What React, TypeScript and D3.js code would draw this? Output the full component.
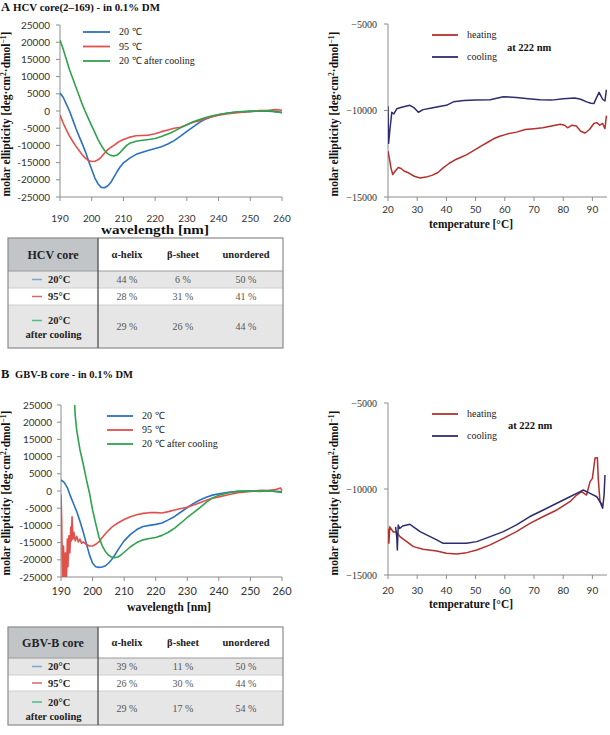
import React from 'react';
import * as d3 from 'd3';

const SERIF = '"Liberation Serif", "Times New Roman", serif';
const SANS = 'Lato, "Open Sans", "Liberation Sans", sans-serif';

type Pt = [number, number];

// ---------- Panel A: HCV core CD spectra ----------
const hcv20: Pt[] = [[190,5200],[191,4000],[192,2000],[193,0],[194,-2500],[195,-5000],[196,-7300],[197,-9500],[198,-11800],[199,-14500],[200,-17000],[201,-19500],[202,-21200],[203,-22200],[204,-22300],[205,-21800],[206,-20800],[207,-19200],[208,-17600],[209,-16200],[210,-15100],[212,-13700],[214,-12600],[216,-12000],[218,-11400],[220,-10900],[222,-10400],[224,-9600],[226,-8600],[228,-7300],[230,-5900],[232,-4600],[234,-3300],[236,-2300],[238,-1600],[240,-1100],[243,-600],[246,-300],[250,-100],[254,0],[257,-100],[260,-400]];
const hcv95: Pt[] = [[190,-1200],[191,-3500],[192,-5500],[193,-7300],[194,-8800],[195,-10200],[196,-11500],[197,-12700],[198,-13700],[199,-14400],[200,-14700],[201,-14600],[202,-14200],[203,-13400],[204,-12300],[205,-11300],[206,-10600],[207,-10000],[208,-9300],[209,-8700],[210,-8300],[212,-7600],[214,-7200],[216,-7100],[218,-7000],[220,-6600],[222,-6000],[224,-5500],[226,-5000],[228,-4700],[230,-4000],[232,-3300],[234,-2800],[236,-2200],[238,-1700],[240,-1200],[243,-800],[246,-500],[250,-100],[253,100],[256,200],[258,400],[260,200]];
const hcv20cool: Pt[] = [[190,20600],[191,18000],[192,15000],[193,12000],[194,9500],[195,7000],[196,4500],[197,2000],[198,-200],[199,-2300],[200,-4300],[201,-6300],[202,-8300],[203,-10000],[204,-11400],[205,-12400],[206,-12900],[207,-13100],[208,-12800],[209,-12000],[210,-11000],[211,-10000],[212,-9400],[214,-8800],[216,-8500],[218,-8300],[220,-8000],[222,-7400],[225,-6300],[228,-4900],[230,-4000],[232,-3100],[234,-2500],[236,-1900],[238,-1400],[240,-1000],[243,-600],[246,-200],[250,-100],[253,0],[256,100],[258,-200],[260,-500]];

// ---------- Panel A: melting at 222 nm ----------
const hcvHeating: Pt[] = [[20,-12350],[20.5,-12800],[21,-13300],[21.6,-13700],[22.5,-13500],[23.5,-13300],[24.5,-13350],[25.5,-13500],[27,-13600],[29,-13800],[31,-13900],[33,-13850],[35,-13750],[37,-13600],[39,-13300],[41,-13050],[43,-12850],[45,-12700],[47,-12550],[50,-12250],[52,-12050],[54,-11850],[56,-11650],[58,-11500],[61,-11350],[64,-11250],[67,-11100],[70,-11050],[73,-11000],[76,-10900],[79,-10800],[80.5,-10850],[81.5,-11000],[83,-10850],[84.5,-10900],[86,-11200],[87.5,-11300],[89,-11100],[90.5,-10750],[91.5,-10700],[92.5,-10850],[93.5,-10750],[94.3,-11050],[94.8,-10300]];
const hcvCooling: Pt[] = [[20,-9750],[20.2,-11900],[20.6,-11200],[21.3,-10100],[22,-10200],[23,-9900],[25,-9800],[27.5,-9700],[29,-9850],[30.4,-10100],[32,-9950],[35,-9850],[38,-9750],[40,-9700],[42.4,-9500],[46,-9420],[50,-9400],[55,-9380],[59.5,-9200],[64,-9250],[68,-9320],[72,-9380],[76,-9400],[80,-9320],[84,-9280],[86,-9350],[88,-9500],[89.5,-9580],[90.5,-9600],[91.3,-9300],[92.3,-8950],[93.5,-9350],[94.3,-9450],[94.8,-8800]];

// ---------- Panel B: GBV-B core CD spectra ----------
const gbv20: Pt[] = [[190,3200],[191,2500],[192,1000],[193,-1500],[194,-3800],[195,-6000],[196,-8800],[197,-11800],[198,-15200],[199,-18500],[200,-21000],[201,-22000],[202,-22200],[203,-22100],[204,-21800],[205,-21000],[206,-20000],[207,-18700],[208,-17200],[209,-15800],[210,-14500],[212,-12600],[214,-11200],[216,-10300],[218,-10000],[220,-9700],[222,-9300],[224,-8400],[226,-7400],[228,-6100],[230,-4800],[232,-3600],[234,-2600],[236,-1800],[238,-1200],[240,-800],[243,-400],[246,-100],[250,0],[254,100],[257,0],[260,-200]];
const gbv95: Pt[] = [[190,-1000],[190.2,-8000],[190.5,-27000],[190.8,-16000],[191.1,-27000],[191.4,-18000],[191.7,-27000],[192,-14000],[192.2,-22000],[192.5,-13000],[192.8,-18000],[193.1,-10500],[193.3,-14500],[193.5,-7500],[193.8,-14000],[194.1,-12000],[194.5,-14500],[195,-13200],[195.5,-14800],[196,-14000],[196.5,-15200],[197,-14800],[198,-15500],[199,-16000],[200,-16000],[201,-15500],[202,-14800],[203,-13600],[204,-12500],[205,-11500],[206,-10600],[207,-9900],[208,-9300],[210,-8300],[212,-7500],[214,-6900],[216,-6500],[218,-6300],[220,-6300],[222,-6400],[224,-6000],[226,-5500],[228,-5100],[230,-4700],[232,-4100],[234,-3400],[236,-2700],[238,-2100],[240,-1700],[243,-1100],[246,-500],[250,-100],[253,100],[256,200],[258,400],[259.5,900],[260,100]];
const gbv20cool: Pt[] = [[194.1,29000],[194.5,22000],[195,17500],[196,12000],[197,8000],[198,3500],[199,-500],[200,-5500],[201,-9500],[202,-13300],[203,-15800],[204,-17500],[205,-18600],[206,-19200],[207,-19400],[208,-19200],[209,-18600],[210,-17800],[212,-16200],[214,-15000],[216,-14200],[218,-13800],[220,-13500],[222,-12900],[224,-12000],[226,-10800],[228,-9300],[230,-7700],[232,-6300],[234,-4800],[236,-3300],[238,-2000],[240,-1200],[243,-500],[246,-100],[250,0],[253,-100],[256,100],[258,-200],[260,-400]];

// ---------- Panel B: melting at 222 nm ----------
const gbvHeating: Pt[] = [[20,-12300],[20.3,-13150],[20.6,-12200],[21.8,-12500],[22.9,-12500],[24.1,-12770],[26.4,-13060],[28.7,-13350],[32,-13500],[36.7,-13600],[40,-13740],[43.5,-13780],[47,-13700],[50.4,-13550],[55,-13250],[59.5,-12870],[64,-12480],[68.6,-12000],[73.2,-11600],[77.8,-11220],[82.3,-10740],[84.6,-10350],[86.3,-10150],[88,-10350],[89.2,-9570],[90,-9380],[90.9,-8200],[91.7,-8180],[92,-9380],[92.6,-10740],[93.5,-10930]];
const gbvCooling: Pt[] = [[22.6,-12200],[23,-12800],[23.2,-13550],[23.5,-12100],[24,-12300],[25,-12150],[27.5,-12050],[28.7,-12200],[31,-12480],[33.2,-12670],[36.7,-12960],[38.9,-13160],[42.4,-13160],[46.9,-13150],[50.4,-13060],[55,-12770],[59.5,-12480],[64,-12090],[68.6,-11600],[73.2,-11220],[77.8,-10830],[82.3,-10450],[85.8,-10150],[86.9,-10060],[89.2,-10250],[91.5,-10450],[92.6,-10740],[93.5,-11120],[94,-10350],[94.3,-9190]];

// ---------- ticks & labels ----------
const wavelengthTicks = [190, 200, 210, 220, 230, 240, 250, 260];
const cdTicks = [-25000, -20000, -15000, -10000, -5000, 0, 5000, 10000, 15000, 20000, 25000];
const tempTicks = [20, 30, 40, 50, 60, 70, 80, 90];
const meltTicks = [-15000, -10000, -5000];
const spectraLegend = ['20 ℃', '95 ℃', '20 ℃ after cooling'];
const meltLegend = ['heating', 'cooling'];

// ---------- tables ----------
const structureHeaders = ['α-helix', 'β-sheet', 'unordered'];
const rowLabels = ['20°C', '95°C', '20°C'];
const hcvHelix = [44, 28, 29];
const hcvSheet = [6, 31, 26];
const hcvUnordered = [50, 41, 44];
const gbvHelix = [39, 26, 29];
const gbvSheet = [11, 30, 17];
const gbvUnordered = [50, 44, 54];

const BLUE = '#2a71c1';
const RED = '#e2504c';
const GREEN = '#2fa24e';
const HEAT = '#b3302e';
const COOL = '#2d2c6e';
const spectraColors = [BLUE, RED, GREEN];
const meltColors = [HEAT, COOL];
const dashColors = ['#7fa6cf', '#d9676a', '#4cbf86'];

function YTitle({ x, y }: { x: number; y: number }) {
  return (
    <text transform={`translate(${x},${y}) rotate(-90)`} textAnchor="middle"
      fontFamily={SERIF} fontWeight="bold" fontSize={11.5} fill="#111">
      molar ellipticity [deg·cm<tspan dy={-4} fontSize={7.5}>2</tspan><tspan dy={4}>·dmol</tspan><tspan dy={-4} fontSize={7.5}>−1</tspan><tspan dy={4}>]</tspan>
    </text>
  );
}

interface ChartProps {
  id: string;
  left: number; right: number; top: number; bottom: number;
  xDomain: [number, number]; yDomain: [number, number];
  xTicks: number[]; yTicks: number[];
  series: Pt[][]; colors: string[]; legend: string[];
  legendX: number; legendY: number; legendDy: number; legendLen: number;
  xLabelY: number; yLabelRight: number;
  xTitle: string; xTitleX: number; xTitleY: number; xTitleLen: number;
  yTitleX: number; yTitleY: number;
  yTickFmt: (v: number) => string; yTickFont: string; yTickSize: number;
  xTickSize: number;
  note?: { x: number; y: number };
  strokeW: number;
}

function Chart(p: ChartProps) {
  const xs = d3.scaleLinear().domain(p.xDomain).range([p.left, p.right]);
  const ys = d3.scaleLinear().domain(p.yDomain).range([p.bottom, p.top]);
  const line = d3.line<Pt>().x(d => xs(d[0])).y(d => ys(d[1]));
  const axisColor = '#8c8c8c';
  return (
    <g>
      <defs>
        <clipPath id={p.id}>
          <rect x={p.left} y={p.top} width={p.right - p.left + 2} height={p.bottom - p.top} />
        </clipPath>
      </defs>
      <line x1={p.left} x2={p.left} y1={p.top} y2={p.bottom} stroke={axisColor} strokeWidth={1} />
      <line x1={p.left} x2={p.right} y1={p.bottom} y2={p.bottom} stroke={axisColor} strokeWidth={1} />
      {p.yTicks.map(t => (
        <g key={'y' + t}>
          <line x1={p.left - 4} x2={p.left} y1={ys(t)} y2={ys(t)} stroke={axisColor} />
          <text x={p.yLabelRight} y={ys(t)} dy="0.35em" textAnchor="end" fontFamily={p.yTickFont}
            fontSize={p.yTickSize} fill="#333">{p.yTickFmt(t)}</text>
        </g>
      ))}
      {p.xTicks.map(t => (
        <g key={'x' + t}>
          <line x1={xs(t)} x2={xs(t)} y1={p.bottom} y2={p.bottom + 4} stroke={axisColor} />
          <text x={xs(t)} y={p.xLabelY} textAnchor="middle" fontFamily={SANS}
            fontSize={p.xTickSize} fill="#333">{t}</text>
        </g>
      ))}
      <g clipPath={`url(#${p.id})`}>
        {p.series.map((s, i) => (
          <path key={i} d={line(s) || ''} fill="none" stroke={p.colors[i]} strokeWidth={p.strokeW}
            strokeLinejoin="round" />
        ))}
      </g>
      {p.legend.map((l, i) => (
        <g key={l}>
          <line x1={p.legendX} x2={p.legendX + p.legendLen} y1={p.legendY + i * p.legendDy}
            y2={p.legendY + i * p.legendDy} stroke={p.colors[i]} strokeWidth={1.8} />
          <text x={p.legendX + p.legendLen + 9} y={p.legendY + i * p.legendDy} dy="0.32em"
            fontFamily={SERIF} fontSize={10} fill="#222">{l}</text>
        </g>
      ))}
      {p.note && (
        <text x={p.note.x} y={p.note.y} fontFamily={SERIF} fontWeight="bold" fontSize={10.5} fill="#111">at 222 nm</text>
      )}
      <text x={p.xTitleX} y={p.xTitleY} textAnchor="middle" fontFamily={SERIF} fontWeight="bold"
        fontSize={12} fill="#111" textLength={p.xTitleLen} lengthAdjust="spacingAndGlyphs">{p.xTitle}</text>
      <YTitle x={p.yTitleX} y={p.yTitleY} />
    </g>
  );
}

interface TableProps {
  name: string; top: number; hb: number; r1: number; r2: number; bottom: number;
  helix: number[]; sheet: number[]; unordered: number[];
}

function StructTable(t: TableProps) {
  const L = 8, D = 98, R = 283;
  const colX = [127, 183, 246];
  const rows = [[t.hb, t.r1], [t.r1, t.r2], [t.r2, t.bottom]];
  const values = [t.helix, t.sheet, t.unordered];
  return (
    <g>
      <rect x={L} y={t.top} width={D - L} height={t.hb - t.top} fill="#c2c5c8" />
      <rect x={D} y={t.top} width={R - D} height={t.hb - t.top} fill="#fff" />
      <rect x={L} y={t.hb} width={R - L} height={t.r1 - t.hb} fill="#e6e6e6" />
      <rect x={L} y={t.r1} width={R - L} height={t.r2 - t.r1} fill="#fff" />
      <rect x={L} y={t.r2} width={R - L} height={t.bottom - t.r2} fill="#e6e6e6" />
      <line x1={L} x2={R} y1={t.hb} y2={t.hb} stroke="#9a9a9a" />
      <line x1={L} x2={R} y1={t.r1} y2={t.r1} stroke="#d0d0d0" />
      <line x1={L} x2={R} y1={t.r2} y2={t.r2} stroke="#d0d0d0" />
      <rect x={L} y={t.top} width={R - L} height={t.bottom - t.top} fill="none" stroke="#8a8a8a" strokeWidth={1.2} />
      <line x1={D} x2={D} y1={t.top} y2={t.bottom} stroke="#5a5a5a" strokeWidth={1.4} />
      <text x={(L + D) / 2} y={(t.top + t.hb) / 2} dy="0.35em" textAnchor="middle" fontFamily={SERIF}
        fontWeight="bold" fontSize={12} fill="#222">{t.name}</text>
      {structureHeaders.map((h, i) => (
        <text key={h} x={colX[i]} y={(t.top + t.hb) / 2} dy="0.35em" textAnchor="middle" fontFamily={SERIF}
          fontWeight="bold" fontSize={10.5} fill="#222">{h}</text>
      ))}
      {rows.map(([a, b], r) => {
        const mid = (a + b) / 2;
        const labelY = r === 2 ? mid - 6 : mid;
        return (
          <g key={r}>
            <line x1={32} x2={42} y1={labelY} y2={labelY} stroke={dashColors[r]} strokeWidth={1.5} />
            <text x={48} y={labelY} dy="0.35em" fontFamily={SERIF} fontWeight="bold" fontSize={10.5} fill="#222">{rowLabels[r]}</text>
            {r === 2 && (
              <text x={(L + D) / 2 + 0.5} y={mid + 8} dy="0.35em" textAnchor="middle" fontFamily={SERIF}
                fontWeight="bold" fontSize={10.5} fill="#222">after cooling</text>
            )}
            {values.map((v, c) => (
              <text key={c} x={colX[c]} y={mid} dy="0.35em" textAnchor="middle" fontFamily={SERIF}
                fontSize={10} fill="#555">{v[r]} %</text>
            ))}
          </g>
        );
      })}
    </g>
  );
}

const fmtPlain = (v: number) => String(v);
const fmtMinus = (v: number) => (v < 0 ? '−' + Math.abs(v) : String(v));

export default function App() {
  return (
    <svg width={610} height={735} style={{ position: 'absolute', left: 0, top: 0, background: '#fff' }}>
      <rect width={610} height={735} fill="#fff" />
      <text x={1} y={11} fontFamily={SERIF} fontWeight="bold" fill="#111">
        <tspan fontSize={12.5}>A</tspan>
        <tspan x={13} fontSize={10.5} textLength={147} lengthAdjust="spacingAndGlyphs">HCV core(2–169)  - in 0.1% DM</tspan>
      </text>

      <Chart id="cA1" left={60} right={282} top={25} bottom={197}
        xDomain={[190, 260]} yDomain={[-25000, 25000]}
        xTicks={wavelengthTicks} yTicks={cdTicks}
        series={[hcv20, hcv95, hcv20cool]} colors={spectraColors} legend={spectraLegend}
        legendX={83} legendY={32} legendDy={14.5} legendLen={27}
        xLabelY={222} yLabelRight={50}
        xTitle="wavelength [nm]" xTitleX={155} xTitleY={234} xTitleLen={108}
        yTitleX={10} yTitleY={114}
        yTickFmt={fmtPlain} yTickFont={SANS} yTickSize={10} xTickSize={10} strokeW={1.6} />

      <Chart id="cA2" left={388} right={607} top={24} bottom={197}
        xDomain={[20, 95]} yDomain={[-15000, -5000]}
        xTicks={tempTicks} yTicks={meltTicks}
        series={[hcvHeating, hcvCooling]} colors={meltColors} legend={meltLegend}
        legendX={432} legendY={35} legendDy={22} legendLen={26}
        xLabelY={213} yLabelRight={377}
        xTitle="temperature [°C]" xTitleX={471} xTitleY={228} xTitleLen={84}
        yTitleX={338} yTitleY={114}
        yTickFmt={fmtMinus} yTickFont={SERIF} yTickSize={10} xTickSize={10} strokeW={1.5}
        note={{ x: 507, y: 51 }} />

      <StructTable name="HCV core" top={238} hb={271} r1={288} r2={305} bottom={348}
        helix={hcvHelix} sheet={hcvSheet} unordered={hcvUnordered} />

      <text x={1} y={378} fontFamily={SERIF} fontWeight="bold" fill="#111">
        <tspan fontSize={12.5}>B</tspan>
        <tspan x={15} fontSize={10.5} textLength={118} lengthAdjust="spacingAndGlyphs">GBV-B core - in 0.1% DM</tspan>
      </text>

      <Chart id="cB1" left={61} right={282} top={405} bottom={577}
        xDomain={[190, 260]} yDomain={[-25000, 25000]}
        xTicks={wavelengthTicks} yTicks={cdTicks}
        series={[gbv20, gbv95, gbv20cool]} colors={spectraColors} legend={spectraLegend}
        legendX={107} legendY={416} legendDy={14} legendLen={26}
        xLabelY={595} yLabelRight={52}
        xTitle="wavelength [nm]" xTitleX={169} xTitleY={611} xTitleLen={84}
        yTitleX={10} yTitleY={493}
        yTickFmt={fmtPlain} yTickFont={SANS} yTickSize={10} xTickSize={11} strokeW={1.6} />

      <Chart id="cB2" left={388} right={607} top={403} bottom={575}
        xDomain={[20, 95]} yDomain={[-15000, -5000]}
        xTicks={tempTicks} yTicks={meltTicks}
        series={[gbvHeating, gbvCooling]} colors={meltColors} legend={meltLegend}
        legendX={432} legendY={414} legendDy={22} legendLen={26}
        xLabelY={594} yLabelRight={377}
        xTitle="temperature [°C]" xTitleX={471} xTitleY={608} xTitleLen={84}
        yTitleX={338} yTitleY={493}
        yTickFmt={fmtMinus} yTickFont={SERIF} yTickSize={10} xTickSize={10} strokeW={1.5}
        note={{ x: 508, y: 429 }} />

      <StructTable name="GBV-B core" top={627} hb={658} r1={675} r2={691} bottom={725}
        helix={gbvHelix} sheet={gbvSheet} unordered={gbvUnordered} />
    </svg>
  );
}
